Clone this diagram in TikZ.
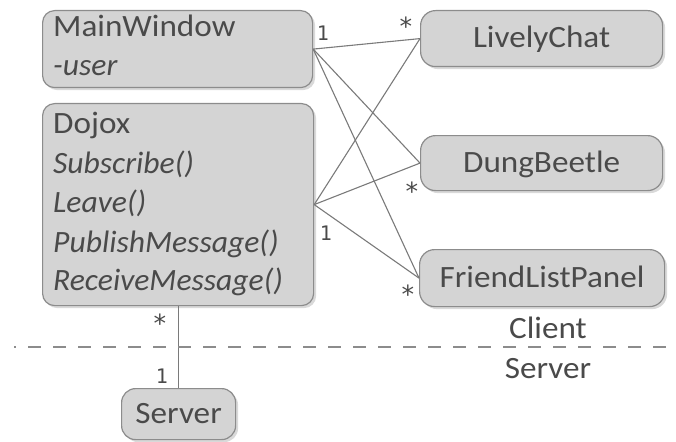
\documentclass[tikz,border=0pt]{standalone}
\usepackage{fontspec}
\setmainfont{Carlito}[FakeStretch=1.07, ItalicFeatures={FakeStretch=1.02}]
\newfontfamily\multfont{DejaVu Sans Mono}
\usetikzlibrary{shadows}
\definecolor{boxfill}{HTML}{D4D4D4}
\definecolor{boxline}{HTML}{8C8C8C}
\definecolor{ink}{HTML}{4A4A4A}
\definecolor{wire}{HTML}{7A7A7A}

\begin{document}
\begin{tikzpicture}[x=1pt,y=-1pt,
  classbox/.style={draw=boxline, line width=1.2pt, fill=boxfill,
    rounded corners=12pt, anchor=north west, inner sep=0pt,
    text=ink, font=\fontsize{31}{37}\selectfont,
    text height=22pt, text depth=4pt,
    drop shadow={shadow xshift=2.5pt, shadow yshift=-2.5pt, fill=black, opacity=0.15}},
  txt/.style={font=\fontsize{31}{37}\selectfont, text=ink, inner sep=0pt},
  mult/.style={font=\multfont\fontsize{20}{20}\selectfont, text=ink, inner sep=0pt, anchor=north},
  mstar/.style={font=\multfont\fontsize{25}{25}\selectfont, text=ink, inner sep=0pt, anchor=north},
  wire/.style={draw=wire, line width=1.1pt},
  divider/.style={draw=boxline, line width=1.6pt, dash pattern=on 13pt off 12pt, dash phase=11pt}]

\useasboundingbox (0,0) rectangle (676,441);

% client-side classes
\node[classbox, minimum width=270pt, minimum height=77pt] (mw) at (42,10) {};
\node[txt, anchor=base west] (mwname) at (53,37) {MainWindow};
\node[txt, anchor=base west] (mwuser) at (53,76) {\itshape -user};

\node[classbox, minimum width=271pt, minimum height=202pt] (dojox) at (42,103) {};
\node[txt, anchor=base west] (djname) at (53,133) {Dojox};
\node[txt, anchor=base west] (djsub) at (53,173) {\itshape Subscribe()};
\node[txt, anchor=base west] (djleave) at (53,212) {\itshape Leave()};
\node[txt, anchor=base west] (djpub) at (53,252) {\itshape PublishMessage()};
\node[txt, anchor=base west] (djrecv) at (53,290) {\itshape ReceiveMessage()};

\node[classbox, rounded corners=15pt, minimum width=242pt, minimum height=56pt] (lc) at (420,10) {LivelyChat};
\node[classbox, rounded corners=15pt, minimum width=242pt, minimum height=55pt] (db) at (420,135) {DungBeetle};
\node[classbox, rounded corners=15pt, minimum width=245pt, minimum height=57pt] (flp) at (419,249) {FriendListPanel};

% server-side class
\node[classbox, rounded corners=14pt, minimum width=114pt, minimum height=51pt] (server) at (121,388) {Server};

% associations
\draw[wire] (mw.east) -- (lc.west);
\draw[wire] (mw.east) -- (db.west);
\draw[wire] (mw.east) -- (flp.west);
\draw[wire] (dojox.east) -- (lc.west);
\draw[wire] (dojox.east) -- (db.west);
\draw[wire] (dojox.east) -- (flp.west);
\draw[wire] (server.north |- dojox.south) -- (server.north);

% multiplicities
\node[mult] (m1) at (323,26) {1};
\node[mstar] (m2) at (406,17) {*};
\node[mstar] (m3) at (412,182) {*};
\node[mult] (m4) at (326,226) {1};
\node[mstar] (m5) at (408,285) {*};
\node[mstar] (m6) at (160,314) {*};
\node[mult] (m7) at (162,369) {1};

% client / server boundary
\coordinate (divL) at (14,347);
\coordinate (divR) at (676,347);
\draw[divider] (divL) -- (divR);
\node[txt, anchor=base] (clientlbl) at (548,338) {Client};
\node[txt, anchor=base] (serverlbl) at (548,378) {Server};
\end{tikzpicture}
\end{document}
